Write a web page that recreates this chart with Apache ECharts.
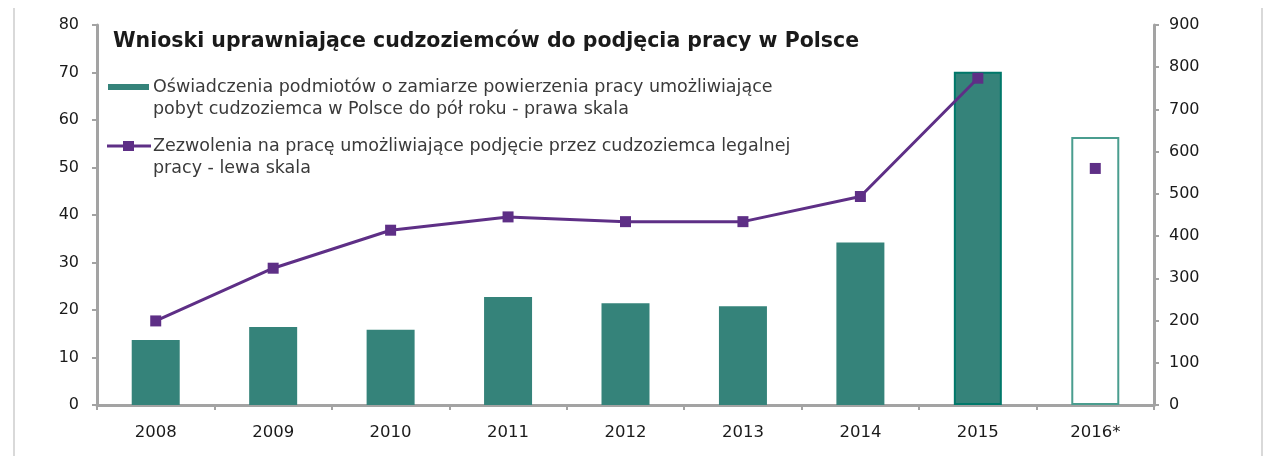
<!DOCTYPE html>
<html>
<head>
<meta charset="utf-8">
<script src="https://cdn.jsdelivr.net/npm/echarts@6/dist/echarts.min.js"></script>
<style>
html,body{margin:0;padding:0;background:#fff;}
#chart{width:1266px;height:456px;}
</style>
</head>
<body>
<div id="chart"></div>
<script>
const categories = ['2008','2009','2010','2011','2012','2013','2014','2015','2016*'];
const declarations = [154, 185, 178, 256, 241, 234, 385, 789, 635];
const permits = [17.7, 28.8, 36.8, 39.6, 38.6, 38.6, 43.9, 68.8, null];
const permits2016 = [null, null, null, null, null, null, null, null, 49.8];
const leftTicks = [0, 80, 10];
const rightTicks = [0, 900, 100];

const titleText = 'Wnioski uprawniające cudzoziemców do podjęcia pracy w Polsce';
const legendBar = 'Oświadczenia podmiotów o zamiarze powierzenia pracy umożliwiające\npobyt cudzoziemca w Polsce do pół roku - prawa skala';
const legendLine = 'Zezwolenia na pracę umożliwiające podjęcie przez cudzoziemca legalnej\npracy - lewa skala';

const GREEN = '#35837a';
const GREEN_DARK = '#00786a';
const GREEN_LIGHT = '#4a9d8f';
const PURPLE = '#5e2f86';
const AXIS = '#a3a3a3';
const FONT = '"DejaVu Sans", "Liberation Sans", Arial, sans-serif';

const barData = declarations.map((v, i) => {
  if (i === 7) return {value: v, itemStyle: {color: GREEN, borderColor: GREEN_DARK, borderWidth: 2}};
  if (i === 8) return {value: v, itemStyle: {color: '#ffffff', borderColor: GREEN_LIGHT, borderWidth: 2}};
  return v;
});

const chart = echarts.init(document.getElementById('chart'), null, {renderer: 'canvas'});
chart.setOption({
  animation: false,
  backgroundColor: '#ffffff',
  title: {
    text: titleText,
    left: 108, top: 26,
    textStyle: {fontFamily: FONT, fontSize: 20.5, fontWeight: 'bold', color: '#1a1a1a'}
  },
  grid: {left: 97, right: 112, top: 25, bottom: 51, containLabel: false},
  xAxis: {
    type: 'category',
    data: categories,
    boundaryGap: true,
    axisLine: {lineStyle: {color: AXIS, width: 3}},
    axisTick: {show: true, alignWithLabel: false, length: 5, lineStyle: {color: AXIS, width: 2}},
    axisLabel: {margin: 19, fontFamily: FONT, fontSize: 16.5, color: '#1a1a1a'},
    splitLine: {show: false}
  },
  yAxis: [
    {
      type: 'value', position: 'left',
      min: leftTicks[0], max: leftTicks[1], interval: leftTicks[2],
      axisLine: {show: true, lineStyle: {color: AXIS, width: 3}},
      axisTick: {show: true, length: 5, lineStyle: {color: AXIS, width: 2}},
      axisLabel: {margin: 18, fontFamily: FONT, fontSize: 16, color: '#1a1a1a'},
      splitLine: {show: false}
    },
    {
      type: 'value', position: 'right',
      min: rightTicks[0], max: rightTicks[1], interval: rightTicks[2],
      axisLine: {show: true, lineStyle: {color: AXIS, width: 3}},
      axisTick: {show: true, length: 5, lineStyle: {color: AXIS, width: 2}},
      axisLabel: {margin: 15, fontFamily: FONT, fontSize: 16, color: '#1a1a1a'},
      splitLine: {show: false}
    }
  ],
  series: [
    {
      name: 'Oświadczenia',
      type: 'bar',
      yAxisIndex: 1,
      barWidth: 48,
      data: barData,
      itemStyle: {color: GREEN},
      z: 2
    },
    {
      name: 'Zezwolenia',
      type: 'line',
      yAxisIndex: 0,
      data: permits,
      connectNulls: false,
      symbol: 'rect',
      symbolSize: 11,
      lineStyle: {color: PURPLE, width: 3},
      itemStyle: {color: PURPLE},
      z: 5
    },
    {
      name: 'Zezwolenia 2016',
      type: 'line',
      yAxisIndex: 0,
      data: permits2016,
      symbol: 'rect',
      symbolSize: 11,
      showAllSymbol: true,
      lineStyle: {color: PURPLE, width: 3},
      itemStyle: {color: PURPLE},
      z: 5
    }
  ],
  graphic: [
    {type: 'line', shape: {x1: 14, y1: 8, x2: 14, y2: 456}, style: {stroke: '#d9d9d9', lineWidth: 2}, silent: true},
    {type: 'line', shape: {x1: 1262, y1: 8, x2: 1262, y2: 456}, style: {stroke: '#d9d9d9', lineWidth: 2}, silent: true},
    {type: 'rect', shape: {x: 108, y: 84, width: 41, height: 6}, style: {fill: GREEN}, silent: true},
    {type: 'text', left: 153, top: 76, style: {text: legendBar, font: '17.5px ' + FONT, fill: '#3a3a3a', lineHeight: 22}, silent: true},
    {type: 'line', shape: {x1: 107, y1: 146, x2: 151, y2: 146}, style: {stroke: PURPLE, lineWidth: 3}, silent: true},
    {type: 'rect', shape: {x: 123, y: 141, width: 11, height: 10}, style: {fill: PURPLE}, silent: true},
    {type: 'text', left: 153, top: 135, style: {text: legendLine, font: '17.5px ' + FONT, fill: '#3a3a3a', lineHeight: 22}, silent: true}
  ]
});
</script>
</body>
</html>
